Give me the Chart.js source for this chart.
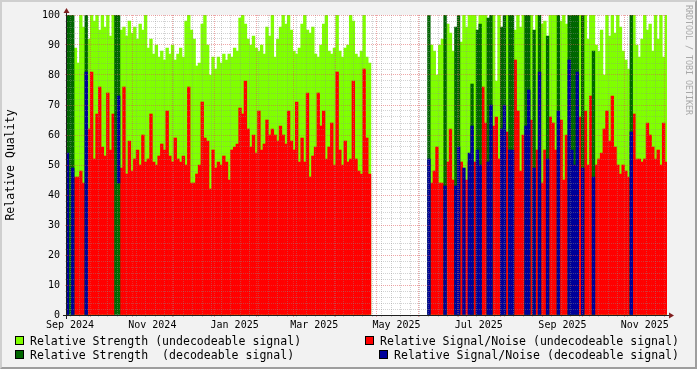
<!DOCTYPE html>
<html><head><meta charset="utf-8">
<script src="https://cdn.jsdelivr.net/npm/chart.js@4"></script>
<style>
html,body{margin:0;padding:0;}
body{width:697px;height:369px;overflow:hidden;background:#f2f2f2;}
#wrap{position:relative;width:697px;height:369px;}
#frame{position:absolute;left:0;top:0;width:697px;height:369px;box-sizing:border-box;border-style:solid;border-width:2px;border-color:#cfcfcf #9e9e9e #9e9e9e #cfcfcf;pointer-events:none;}
canvas{position:absolute;left:0;top:0;}
.lg{position:absolute;font-family:'DejaVu Sans Mono';font-size:11.55px;line-height:14px;white-space:pre;color:#000;}
.bx{position:absolute;width:9px;height:9px;box-sizing:border-box;border:1px solid #000;}
#wm{position:absolute;left:684px;top:5px;font-family:'DejaVu Sans Mono';font-size:8.3px;line-height:10px;color:#a8a8a8;writing-mode:vertical-rl;white-space:pre;}
</style></head>
<body>
<div id="wrap">
<canvas id="c" width="697" height="369"></canvas>
<div id="frame"></div>
<div id="wm">RRDTOOL / TOBI OETIKER</div>
<div class="bx" style="left:15px;top:336px;background:#80ff00"></div>
<div class="lg" style="left:30px;top:334px">Relative Strength (undecodeable signal)</div>
<div class="bx" style="left:365px;top:336px;background:#ff0000"></div>
<div class="lg" style="left:380px;top:334px">Relative Signal/Noise (undecodeable signal)</div>
<div class="bx" style="left:15px;top:350px;background:#006600"></div>
<div class="lg" style="left:30px;top:348px">Relative Strength  (decodeable signal)</div>
<div class="bx" style="left:379px;top:350px;background:#000099"></div>
<div class="lg" style="left:394px;top:348px">Relative Signal/Noise (decodeable signal)</div>
</div>
<script>
// x values are days since 2024-09-01; one bin every 2 days
const firstBinDay = 13;
const binDays = 2;

// Relative Strength (undecodeable signal)
const strengthUndec = [
null,null,null,89,84,100,96,null,92,100,
98,100,95,100,96,100,93,100,null,null,
95,96,93,98,94,96,92,97,95,100,
89,92,87,90,86,88,85,89,87,90,
85,87,89,86,98,100,95,92,83,84,
97,100,90,80,86,82,86,84,87,85,
87,86,89,88,99,100,97,92,90,93,
89,88,90,87,96,93,100,86,92,96,
100,97,100,95,88,87,89,97,100,95,
94,96,87,86,90,97,100,88,87,89,
100,88,86,89,90,100,98,87,86,88,
100,86,84,null,null,null,null,null,null,null,
null,null,null,null,null,null,null,null,null,null,
null,null,null,null,null,90,88,80,90,92,
null,97,94,88,null,null,91,100,96,100,
100,100,null,100,100,100,null,null,100,78,
100,null,null,100,null,null,95,100,96,100,
null,null,100,null,100,null,97,98,null,100,
100,100,null,98,100,97,null,null,null,null,
100,null,100,92,100,100,90,88,95,80,
100,93,100,94,100,96,88,85,82,null,
100,90,86,92,100,95,97,88,100,92,
100,86,100];

// Relative Signal/Noise (undecodeable signal)
const snrUndec = [
null,null,null,46,46,48,44,null,62,81,
52,67,76,56,53,74,55,67,null,null,
49,76,47,58,48,52,55,50,60,51,
52,67,51,50,53,57,55,68,53,51,
59,52,51,53,50,76,44,44,47,50,
71,59,58,42,55,49,51,50,53,51,
45,55,56,57,69,67,78,62,56,60,
54,68,55,57,65,60,62,60,58,63,
60,57,68,58,55,71,51,59,51,74,
46,53,56,74,63,68,52,56,64,50,
81,55,50,58,51,52,78,52,48,47,
82,59,47,null,null,null,null,null,null,null,
null,null,null,null,null,null,null,null,null,null,
null,null,null,null,null,44,48,56,44,44,
null,51,62,45,null,null,51,null,45,51,
null,51,null,null,76,64,null,null,63,66,
52,null,null,61,null,null,85,68,48,60,
null,null,65,null,55,null,44,55,null,66,
64,55,null,65,45,60,null,null,null,null,
66,null,68,50,73,null,50,52,54,62,
68,58,73,56,50,47,50,48,46,null,
67,52,52,51,52,64,60,56,52,55,
50,64,51];

// days with decodeable signal
const decDays = [13,15,17,27,49,51,281,293,301,303,307,311,313,317,319,325,327,335,337,341,343,353,355,359,363,369,377,385,387,389,391,395,403,431];
// Relative Strength (decodeable signal)
const strengthDec = [100,100,100,100,100,100,100,100,96,100,null,null,77,95,97,99,100,96,100,100,100,100,100,95,100,93,100,100,100,100,100,100,88,100];
// Relative Signal/Noise (decodeable signal)
const snrDec = [54,null,49,81,null,[44,73],52,43,43,56,49,54,63,55,50,51,70,62,70,55,55,63,75,49,81,52,68,85,55,50,81,49,46,61];

// axis definitions
const monthStartDays = [30,61,91,122,153,181,212,242,273,303,334,365,395,426,456];
const weekDays = [15,22,29,36,43,50,57,64,71,78,85,92,99,106,113,120,127,134,141,148,155,162,169,176,183,190,197,204,211,218,225,232,239,246,253,260,267,274,281,288,295,302,309,316,323,330,337,344,351,358,365,372,379,386,393,400,407,414,421,428,435,442,449,456];
const xLabelDays = [15,76,137,196,257,318,380,441];
const xLabels = ['Sep 2024','Nov 2024','Jan 2025','Mar 2025','May 2025','Jul 2025','Sep 2025','Nov 2025'];
const yGridValues = [0,2,4,6,8,10,12,14,16,18,20,22,24,26,28,30,32,34,36,38,40,42,44,46,48,50,52,54,56,58,60,62,64,66,68,70,72,74,76,78,80,82,84,86,88,90,92,94,96,98,100];
const yLabels = {0:'0',10:'10',20:'20',30:'30',40:'40',50:'50',60:'60',70:'70',80:'80',90:'90',100:'100'};

const GRID = 'rgba(143,143,143,0.4)';
const MGRID = 'rgba(222,79,79,0.5)';
const CLEAR = 'rgba(0,0,0,0)';
const AXIS = '#1f1f1f';
const ARROW = '#801f1f';

const xTickMap = new Map();
weekDays.forEach(d => xTickMap.set(d, {color: GRID, label: ''}));
xLabelDays.forEach((d, i) => {
  const t = xTickMap.get(d);
  xTickMap.set(d, {color: t ? t.color : CLEAR, label: xLabels[i]});
});
monthStartDays.forEach(d => {
  const t = xTickMap.get(d);
  xTickMap.set(d, {color: MGRID, label: t ? t.label : ''});
});
const xTicks = Array.from(xTickMap.keys()).sort((a, b) => a - b);

function seq(values) {
  const out = [];
  values.forEach((v, i) => { if (v !== null) out.push({x: firstBinDay + i * binDays, y: v}); });
  return out;
}
function sparse(days, values) {
  const out = [];
  days.forEach((d, i) => { if (values[i] !== null) out.push({x: d, y: values[i]}); });
  return out;
}

const barCommon = {grouped: false, barThickness: 2.7, borderWidth: 0, borderSkipped: false};

const frameMarks = {
  id: 'frameMarks',
  beforeDraw(chart) {
    const {ctx, chartArea: a} = chart;
    ctx.save();
    ctx.fillStyle = '#ffffff';
    ctx.fillRect(a.left, a.top, a.right - a.left, a.bottom - a.top);
    ctx.restore();
  },
  afterDraw(chart) {
    const {ctx, chartArea: a} = chart;
    ctx.save();
    ctx.strokeStyle = AXIS;
    ctx.lineWidth = 1;
    ctx.beginPath();
    ctx.moveTo(a.left - 4, a.bottom + 0.5); ctx.lineTo(a.right + 4, a.bottom + 0.5);
    ctx.moveTo(a.left - 0.5, a.bottom + 4); ctx.lineTo(a.left - 0.5, a.top - 4);
    ctx.stroke();
    ctx.fillStyle = ARROW;
    ctx.beginPath();
    ctx.moveTo(a.right + 2, a.bottom + 0.5 - 3); ctx.lineTo(a.right + 2, a.bottom + 0.5 + 3); ctx.lineTo(a.right + 7, a.bottom + 0.5);
    ctx.closePath(); ctx.fill();
    ctx.beginPath();
    ctx.moveTo(a.left - 0.5 - 3, a.top - 2); ctx.lineTo(a.left - 0.5 + 3, a.top - 2); ctx.lineTo(a.left - 0.5, a.top - 7);
    ctx.closePath(); ctx.fill();
    ctx.restore();
  }
};

new Chart(document.getElementById('c'), {
  type: 'bar',
  data: {
    datasets: [
      Object.assign({label: 'Relative Strength (undecodeable signal)', data: seq(strengthUndec), backgroundColor: '#80ff00', order: 4}, barCommon),
      Object.assign({label: 'Relative Signal/Noise (undecodeable signal)', data: seq(snrUndec), backgroundColor: '#ff0000', order: 3}, barCommon),
      Object.assign({label: 'Relative Strength  (decodeable signal)', data: sparse(decDays, strengthDec), backgroundColor: '#006600', order: 2}, barCommon),
      Object.assign({label: 'Relative Signal/Noise (decodeable signal)', data: sparse(decDays, snrDec), backgroundColor: '#000099', order: 1}, barCommon)
    ]
  },
  options: {
    responsive: false,
    animation: false,
    devicePixelRatio: 1,
    layout: {padding: {left: 0, right: 30, top: 15, bottom: 0}},
    plugins: {legend: {display: false}, tooltip: {enabled: false}},
    scales: {
      x: {
        type: 'linear', min: 12.75, max: 457.5, offset: false,
        afterFit(s) { s.height = 54; },
        afterBuildTicks(s) { s.ticks = xTicks.map(v => ({value: v})); },
        ticks: {
          autoSkip: false, maxRotation: 0, minRotation: 0, padding: 2, color: '#000',
          font: {family: 'DejaVu Sans Mono', size: 10},
          callback: v => (xTickMap.get(v) || {label: ''}).label
        },
        grid: {offset: false, z: 1, lineWidth: 1, tickLength: 2,
          color: c => c.tick ? (xTickMap.get(c.tick.value) || {color: CLEAR}).color : CLEAR},
        border: {display: false, dash: [1, 1]}
      },
      y: {
        min: 0, max: 100,
        afterFit(s) { s.width = 67; },
        afterBuildTicks(s) { s.ticks = yGridValues.map(v => ({value: v})); },
        ticks: {
          autoSkip: false, padding: 5, color: '#000',
          font: {family: 'DejaVu Sans Mono', size: 10},
          callback: v => yLabels[v] || ''
        },
        grid: {z: 1, lineWidth: 1, tickLength: 2,
          color: c => c.tick && c.tick.value % 10 === 0 ? MGRID : GRID},
        border: {display: false, dash: [1, 1]},
        title: {display: true, text: 'Relative Quality', color: '#000',
          font: {family: 'DejaVu Sans Mono', size: 11.55}, padding: {top: 4.5, bottom: 0}}
      }
    }
  },
  plugins: [frameMarks]
});
</script>
</body></html>
